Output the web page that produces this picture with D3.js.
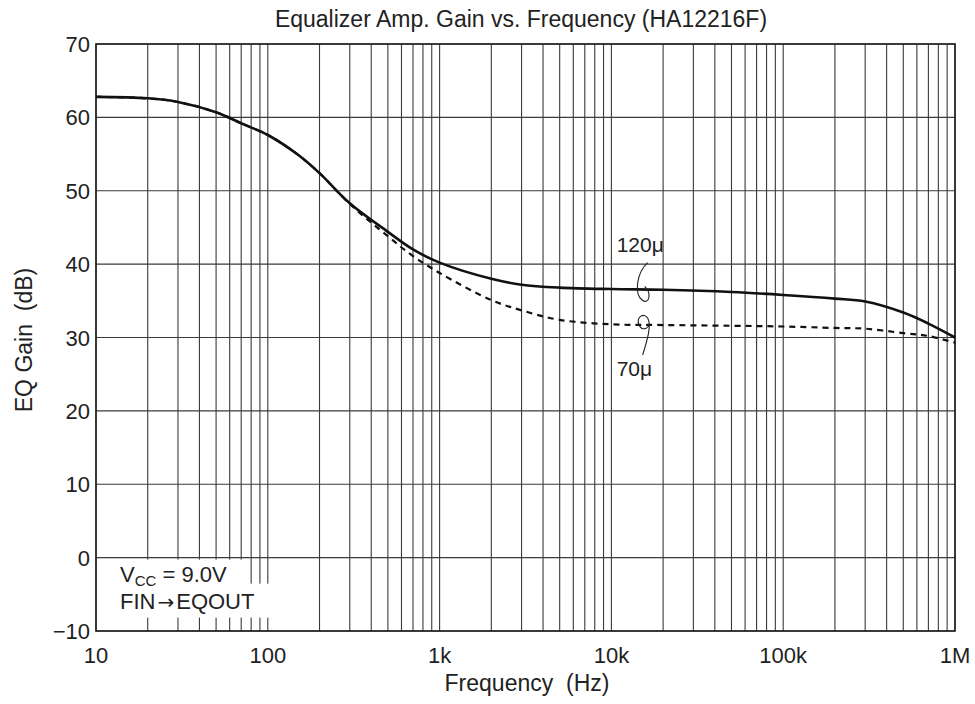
<!DOCTYPE html>
<html lang="en">
<head>
    <meta charset="UTF-8">
    <script src="https://d3js.org/d3.v7.min.js"></script>
    <style>
        body {margin: 0; background-color: #fff}
        svg {display: block; font-family: "Liberation Sans", Arial, sans-serif;}
    </style>
</head>
<body>
<svg class="chart"></svg>
<script type="text/javascript">
    // values
    let freqs = [10, 20, 30, 50, 70, 100, 150, 200, 300, 500, 700, 1000, 2000, 3000, 5000,
        10000, 20000, 50000, 100000, 200000, 300000, 500000, 700000, 1000000];
    let gain120 = [62.8, 62.6, 62.1, 60.7, 59.2, 57.6, 54.9, 52.4, 48.3, 44.4, 42.0, 40.2, 38.0, 37.2, 36.8,
        36.6, 36.5, 36.2, 35.8, 35.3, 34.9, 33.4, 31.9, 30.0];
    let gain70 = [62.8, 62.6, 62.1, 60.7, 59.2, 57.6, 54.9, 52.4, 48.2, 43.8, 41.1, 38.8, 35.1, 33.7, 32.4,
        31.8, 31.7, 31.6, 31.5, 31.3, 31.2, 30.6, 30.2, 29.3];
    let xTicks = [10, 100, 1000, 10000, 100000, 1000000];
    let xTickLabels = ['10', '100', '1k', '10k', '100k', '1M'];
    let yTicks = [-10, 0, 10, 20, 30, 40, 50, 60, 70];

    let width = 975, height = 704;
    let margin = {top: 44, right: 20, bottom: 73, left: 96};

    let x = d3.scaleLog().domain([10, 1e6]).range([margin.left, width - margin.right]);
    let y = d3.scaleLinear().domain([-10, 70]).range([height - margin.bottom, margin.top]);

    let svg = d3.select('.chart').attr('width', width).attr('height', height);

    // minor + major vertical grid
    let vGrid = [];
    for (let dec = 10; dec < 1e6; dec *= 10) {
        for (let k = 1; k < 10; k++) vGrid.push(dec * k);
    }
    vGrid.push(1e6);
    svg.append('g').selectAll('line').data(vGrid).enter().append('line')
        .attr('x1', d => x(d)).attr('x2', d => x(d))
        .attr('y1', y(70)).attr('y2', y(-10))
        .attr('stroke', '#3a3a3a').attr('stroke-width', 1.1);

    svg.append('g').selectAll('line').data(yTicks).enter().append('line')
        .attr('x1', x(10)).attr('x2', x(1e6))
        .attr('y1', d => y(d)).attr('y2', d => y(d))
        .attr('stroke', '#3a3a3a').attr('stroke-width', 1.1);

    // frame
    svg.append('rect')
        .attr('x', x(10)).attr('y', y(70))
        .attr('width', x(1e6) - x(10)).attr('height', y(-10) - y(70))
        .attr('fill', 'none').attr('stroke', '#222').attr('stroke-width', 1.6);

    // condition box
    let note = svg.append('g');
    note.append('rect').attr('x', x(10) + 1).attr('y', y(0) + 2)
        .attr('width', 150).attr('height', 25).attr('fill', '#fff');
    note.append('rect').attr('x', x(10) + 1).attr('y', y(0) + 26)
        .attr('width', 176).attr('height', 34).attr('fill', '#fff');
    let t1 = note.append('text').attr('x', x(10) + 24).attr('y', y(0) + 24)
        .attr('font-size', 22).attr('fill', '#222');
    t1.append('tspan').text('V');
    t1.append('tspan').attr('font-size', 15).attr('dy', 4).text('CC');
    t1.append('tspan').attr('dy', -4).text(' = 9.0V');
    let t2 = note.append('text').attr('x', x(10) + 24).attr('y', y(0) + 51)
        .attr('font-size', 22).attr('fill', '#222');
    t2.append('tspan').text('FIN');
    t2.append('tspan').attr('font-family', 'DejaVu Sans').attr('font-size', 20).attr('dx', 2).text('\u2192');
    t2.append('tspan').attr('dx', 2).text('EQOUT');

    // curves
    let line = d3.line().x(d => x(d[0])).y(d => y(d[1])).curve(d3.curveCatmullRom.alpha(0.5));
    svg.append('path').datum(freqs.map((f, i) => [f, gain70[i]]))
        .attr('d', line).attr('fill', 'none')
        .attr('stroke', '#111').attr('stroke-width', 2.2).attr('stroke-dasharray', '6,5');
    svg.append('path').datum(freqs.map((f, i) => [f, gain120[i]]))
        .attr('d', line).attr('fill', 'none')
        .attr('stroke', '#111').attr('stroke-width', 2.6);

    // curve labels with little hooks
    let ax = x(15000);
    svg.append('text').attr('x', ax - 25).attr('y', y(41.6))
        .attr('font-size', 21).attr('fill', '#222').text('120\u03bc');
    svg.append('text').attr('x', ax - 25).attr('y', y(24.8))
        .attr('font-size', 21).attr('fill', '#222').text('70\u03bc');
    let yA = y(36.4), yB = y(31.7);
    svg.append('path')
        .attr('d', `M${ax + 6},${yA - 28} C${ax - 5},${yA - 18} ${ax - 8},${yA + 4} ${ax + 1},${yA + 10}` +
            ` C${ax + 8},${yA + 14} ${ax + 10},${yA + 2} ${ax + 3},${yA - 4}`)
        .attr('fill', 'none').attr('stroke', '#222').attr('stroke-width', 1.1);
    svg.append('path')
        .attr('d', `M${ax + 1},${yB + 30} C${ax + 6},${yB + 14} ${ax + 10},${yB + 0} ${ax + 6},${yB - 7}` +
            ` C${ax + 2},${yB - 13} ${ax - 5},${yB - 8} ${ax - 3},${yB - 1}` +
            ` C${ax - 1},${yB + 5} ${ax + 4},${yB + 5} ${ax + 7},${yB + 1}`)
        .attr('fill', 'none').attr('stroke', '#222').attr('stroke-width', 1.1);

    // tick labels
    svg.append('g').selectAll('text').data(yTicks).enter().append('text')
        .attr('x', x(10) - 6).attr('y', d => y(d) + 8)
        .attr('text-anchor', 'end').attr('font-size', 22).attr('fill', '#222')
        .text(d => d < 0 ? '\u2212' + Math.abs(d) : d);
    svg.append('g').selectAll('text').data(xTicks).enter().append('text')
        .attr('x', d => x(d)).attr('y', y(-10) + 32)
        .attr('text-anchor', 'middle').attr('font-size', 22).attr('fill', '#222')
        .text((d, i) => xTickLabels[i]);

    // titles
    svg.append('text').attr('x', 521).attr('y', 27)
        .attr('text-anchor', 'middle').attr('font-size', 23).attr('fill', '#222')
        .text('Equalizer Amp. Gain vs. Frequency (HA12216F)');
    svg.append('text').attr('x', 527).attr('y', 691)
        .attr('text-anchor', 'middle').attr('font-size', 23).attr('fill', '#222')
        .attr('xml:space', 'preserve').text('Frequency  (Hz)');
    svg.append('text')
        .attr('transform', `translate(32,340) rotate(-90)`)
        .attr('text-anchor', 'middle').attr('font-size', 23).attr('fill', '#222')
        .attr('xml:space', 'preserve').text('EQ Gain  (dB)');
</script>
</body>
</html>
